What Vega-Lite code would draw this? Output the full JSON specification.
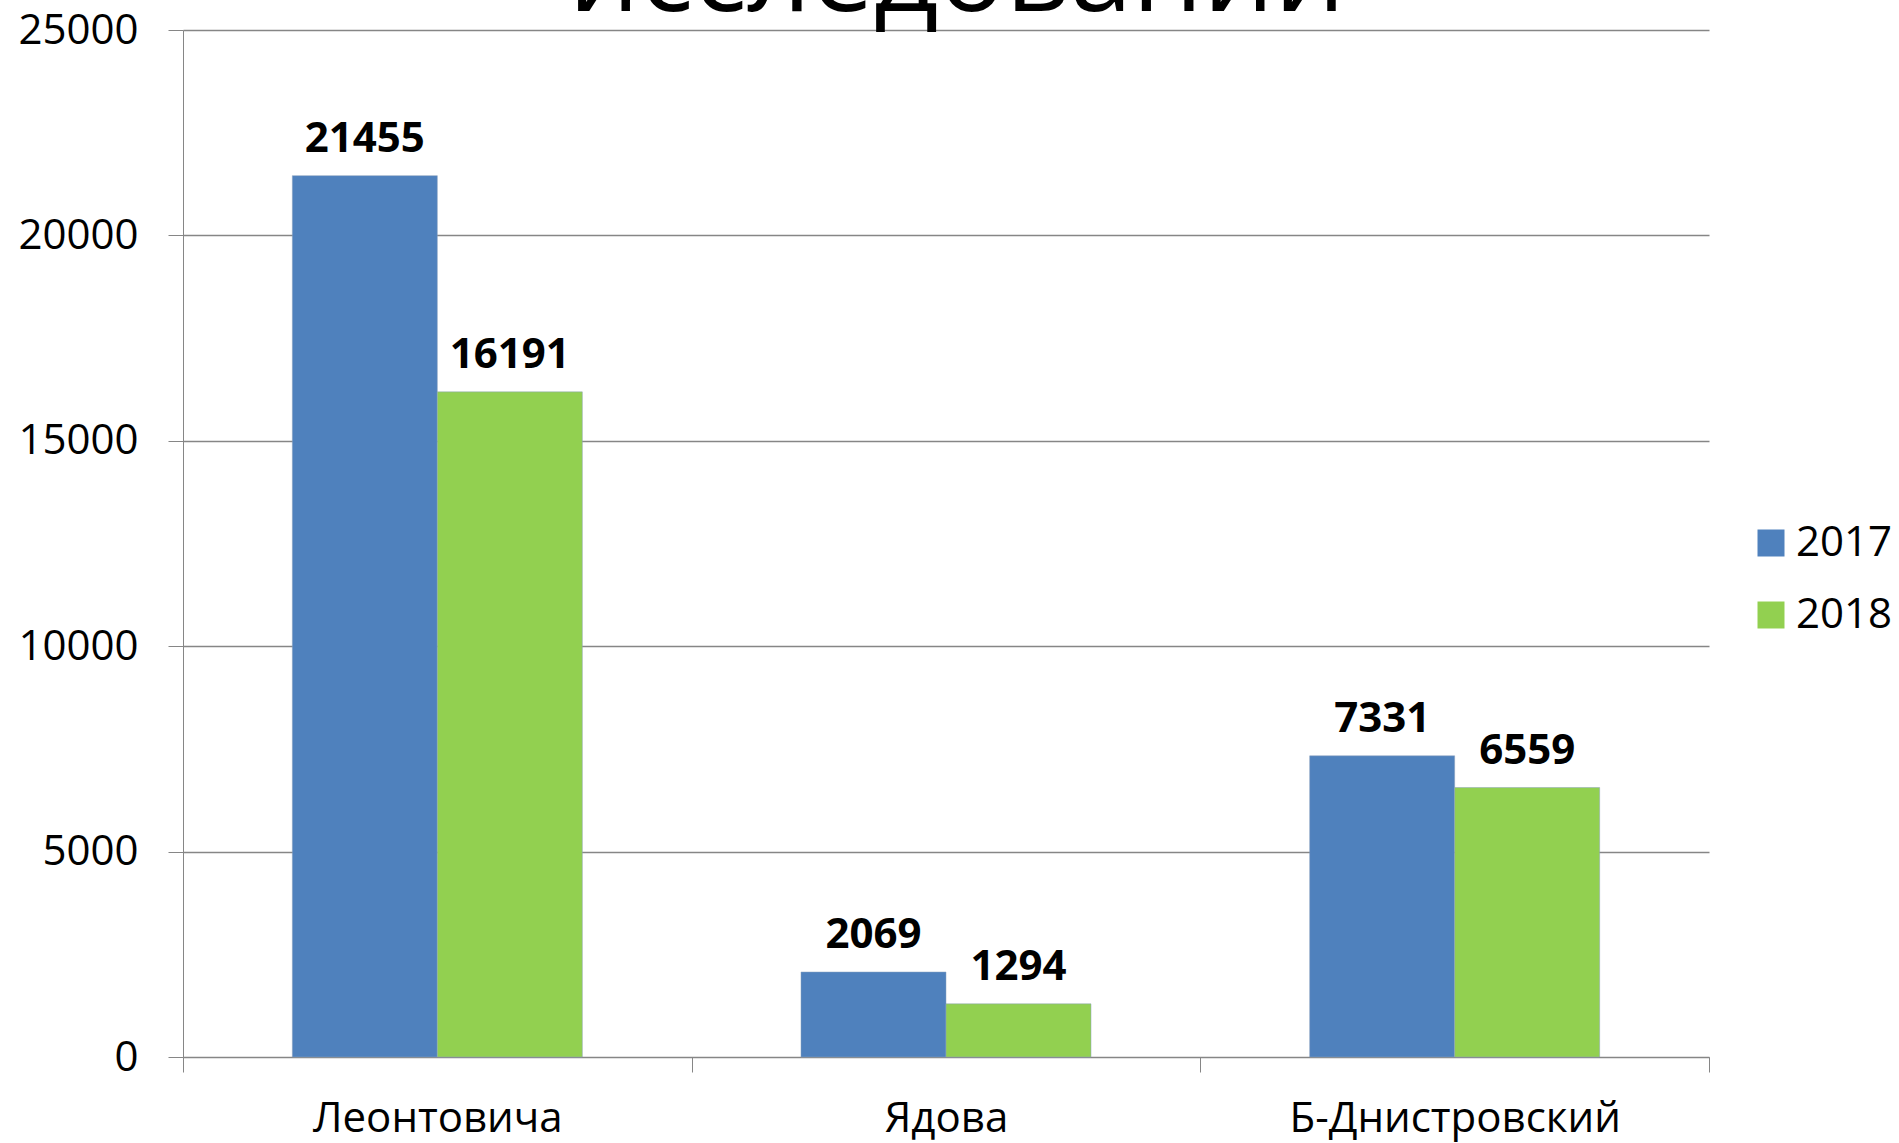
{
  "$schema": "https://vega.github.io/schema/vega-lite/v6.json",
  "autosize": "none",
  "padding": {"left": 183, "top": 30, "right": 190, "bottom": 86},
  "width": 1526,
  "height": 1027,
  "background": "white",
  "title": {"text": "исследований", "font": "Open Sans", "fontSize": 112, "fontWeight": "normal", "color": "black", "baseline": "alphabetic", "offset": -114, "dx": 11, "anchor": "middle"},
  "data": {"values": [
    {"place": "Леонтовича", "year": "2017", "value": 21455},
    {"place": "Леонтовича", "year": "2018", "value": 16191},
    {"place": "Ядова", "year": "2017", "value": 2069},
    {"place": "Ядова", "year": "2018", "value": 1294},
    {"place": "Б-Днистровский", "year": "2017", "value": 7331},
    {"place": "Б-Днистровский", "year": "2018", "value": 6559}
  ]},
  "encoding": {
    "x": {"field": "place", "type": "nominal", "sort": ["Леонтовича", "Ядова", "Б-Днистровский"],
      "scale": {"paddingInner": 0, "paddingOuter": 0},
      "axis": {"title": null, "labelAngle": 0, "labelLimit": 0, "labelFont": "Open Sans", "labelFontSize": 42, "labelColor": "black", "labelPadding": 26, "tickBand": "extent", "tickSize": 15, "tickColor": "#868686", "domainColor": "#868686", "labelBaseline": "top"}},
    "xOffset": {"field": "year", "type": "nominal", "scale": {"paddingInner": 0, "paddingOuter": 0.754}},
    "y": {"field": "value", "type": "quantitative",
      "scale": {"domain": [0, 25000], "nice": false},
      "axis": {"title": null, "values": [0, 5000, 10000, 15000, 20000, 25000], "labelFont": "Open Sans", "labelFontSize": 42, "labelColor": "black", "labelPadding": 30, "tickSize": 15, "tickColor": "#868686", "domainColor": "#868686", "gridColor": "#868686", "gridWidth": 1.3, "format": "d"}}
  },
  "layer": [
    {"mark": {"type": "bar", "stroke": "#8aa0bd", "strokeWidth": 0.5},
     "encoding": {"color": {"field": "year", "type": "nominal",
       "scale": {"domain": ["2017", "2018"], "range": ["#4F81BD", "#92D050"]},
       "legend": {"title": null, "orient": "none", "legendX": 1567, "legendY": 492, "symbolType": "square", "symbolSize": 729, "symbolStrokeWidth": 0, "labelFont": "Open Sans", "labelFontSize": 42, "labelColor": "black", "rowPadding": 30, "labelOffset": 4, "labelLimit": 0}}}},
    {"mark": {"type": "text", "font": "Open Sans", "fontSize": 42, "fontWeight": "bold", "baseline": "alphabetic", "dy": -24, "color": "black"},
     "encoding": {"text": {"field": "value", "type": "quantitative", "format": "d"}}}
  ],
  "config": {"view": {"stroke": null}}
}
